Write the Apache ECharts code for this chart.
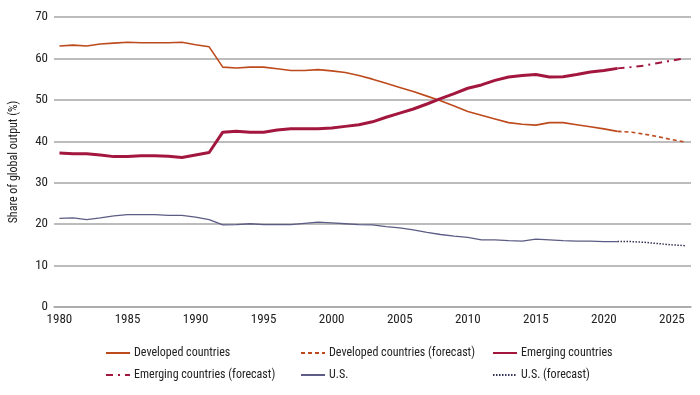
<!DOCTYPE html>
<html>
<head>
<meta charset="utf-8">
<script src="https://cdn.jsdelivr.net/npm/echarts@6/dist/echarts.min.js"></script>
<style>html,body{margin:0;padding:0;background:#fff}#c{width:700px;height:395px}</style>
</head>
<body>
<div id="c"></div>
<script>
const years = [1980,1981,1982,1983,1984,1985,1986,1987,1988,1989,1990,1991,1992,1993,1994,1995,1996,1997,1998,1999,2000,2001,2002,2003,2004,2005,2006,2007,2008,2009,2010,2011,2012,2013,2014,2015,2016,2017,2018,2019,2020,2021];
const forecastYears = [2021,2022,2023,2024,2025,2026];
const developed = [63.0,63.2,63.0,63.5,63.7,63.9,63.8,63.8,63.8,63.9,63.3,62.8,57.9,57.7,57.9,57.9,57.5,57.1,57.1,57.3,57.0,56.6,55.9,55.0,54.0,53.0,52.0,50.9,49.8,48.5,47.2,46.3,45.4,44.5,44.1,43.9,44.5,44.5,44.0,43.5,43.0,42.4];
const developedForecast = [42.4,42.2,41.7,41.1,40.4,39.8];
const emerging = [37.2,37.0,37.0,36.7,36.3,36.3,36.5,36.5,36.4,36.1,36.7,37.3,42.2,42.4,42.2,42.2,42.7,43.0,43.0,43.0,43.2,43.6,44.0,44.7,45.8,46.8,47.8,49.0,50.3,51.5,52.8,53.6,54.7,55.5,55.9,56.1,55.5,55.6,56.1,56.7,57.1,57.6];
const emergingForecast = [57.6,57.9,58.3,58.9,59.5,60.1];
const us = [21.4,21.5,21.1,21.5,22.0,22.3,22.3,22.3,22.1,22.1,21.7,21.1,19.8,19.9,20.1,19.9,19.9,19.9,20.2,20.5,20.3,20.1,19.9,19.8,19.4,19.1,18.6,18.0,17.5,17.1,16.8,16.2,16.2,16.0,15.9,16.4,16.2,16.0,15.9,15.9,15.8,15.8];
const usForecast = [15.8,15.8,15.6,15.3,15.0,14.8];
const xTicks = [1980,1985,1990,1995,2000,2005,2010,2015,2020,2025];
const names = ['Developed countries','Developed countries (forecast)','Emerging countries','Emerging countries (forecast)','U.S.','U.S. (forecast)'];

const pair = (xs, ys) => xs.map((x, i) => [x, ys[i]]);
const FONT = '"Roboto Condensed","DejaVu Sans Condensed",sans-serif';
const cDev = '#bd4a1c', cEm = '#a3173f', cUs = '#5c5c85';

const chart = echarts.init(document.getElementById('c'), null, {renderer: 'canvas'});
const mk = (name, xs, ys, color, width, type) => ({
  name, type: 'line', data: pair(xs, ys), showSymbol: false, symbol: 'none', smooth: false,
  lineStyle: {color, width, type}, itemStyle: {color}, z: 3, animation: false
});
const legendPos = [[100,342],[295,342],[487,342],[100,364],[295,364],[487,364]];
const legends = names.map((n, i) => ({
  data: [n], left: legendPos[i][0], top: legendPos[i][1], itemWidth: 24, itemHeight: 10, itemGap: 4,
  itemStyle: {opacity: 0},
  textStyle: {fontFamily: FONT, fontSize: 12, color: '#222', padding: [0,0,0,-1]}, selectedMode: false
}));
chart.setOption({
  animation: false,
  grid: {left: 49, right: 9, top: 17, bottom: 88},
  xAxis: {
    type: 'value', min: 1979.6, max: 2026.4,
    axisLine: {show: true, lineStyle: {color: '#a6a6a6', width: 1.5}},
    axisTick: {show: false},
    splitLine: {show: false},
    axisLabel: {customValues: xTicks, fontFamily: FONT, fontSize: 13, color: '#222', margin: 6, formatter: v => String(v)}
  },
  yAxis: {
    type: 'value', min: 0, max: 70, interval: 10,
    name: 'Share of global output (%)', nameLocation: 'middle', nameGap: 34,
    nameTextStyle: {fontFamily: FONT, fontSize: 12, color: '#222'},
    axisLine: {show: false}, axisTick: {show: false},
    axisLabel: {fontFamily: FONT, fontSize: 13, color: '#222', margin: 6},
    splitLine: {lineStyle: {color: '#a6a6a6', width: 1.5}}
  },
  legend: legends,
  series: [
    mk(names[0], years, developed, cDev, 1.6, 'solid'),
    mk(names[1], forecastYears, developedForecast, cDev, 1.6, [4,3]),
    mk(names[2], years, emerging, cEm, 3, 'solid'),
    mk(names[3], forecastYears, emergingForecast, cEm, 2, [7,5,2,5]),
    mk(names[4], years, us, cUs, 1.3, 'solid'),
    mk(names[5], forecastYears, usForecast, '#333355', 1.5, [1.5,1.5])
  ]
});
</script>
</body>
</html>
